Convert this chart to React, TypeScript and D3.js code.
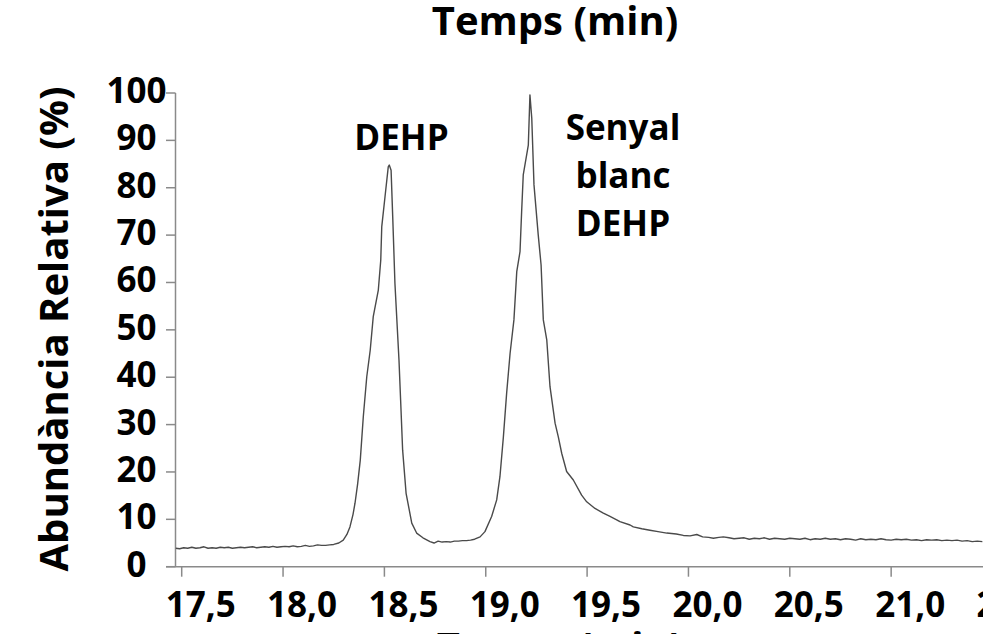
import React from "react";
import * as d3 from "d3";

// Chromatogram data: retention time (min) and relative abundance (%)
const times: number[] = [
  17.47, 17.49, 17.51, 17.53, 17.55, 17.57, 17.59, 17.61, 17.63, 17.65,
  17.67, 17.69, 17.71, 17.73, 17.75, 17.77, 17.79, 17.81, 17.83, 17.85,
  17.87, 17.89, 17.91, 17.93, 17.95, 17.97, 17.99, 18.01, 18.03, 18.05,
  18.07, 18.09, 18.11, 18.13, 18.15, 18.17, 18.19, 18.21, 18.23, 18.25,
  18.275, 18.297, 18.315, 18.33, 18.345, 18.355, 18.368, 18.381, 18.396, 18.413,
  18.43, 18.445, 18.47, 18.482, 18.487, 18.503, 18.519, 18.524, 18.533, 18.541,
  18.552, 18.572, 18.58, 18.59, 18.607, 18.635, 18.659, 18.69, 18.725, 18.745,
  18.765, 18.785, 18.805, 18.825, 18.845, 18.865, 18.885, 18.905, 18.925, 18.945,
  18.972, 18.996, 19.029, 19.054, 19.07, 19.087, 19.103, 19.12, 19.139, 19.153,
  19.169, 19.177, 19.185, 19.21, 19.218, 19.227, 19.238, 19.259, 19.273, 19.284,
  19.301, 19.317, 19.342, 19.358, 19.375, 19.399, 19.432, 19.473, 19.498, 19.539,
  19.58, 19.613, 19.646, 19.662, 19.712, 19.728, 19.77, 19.81, 19.85, 19.893,
  19.94, 19.975, 20.008, 20.041, 20.07, 20.1, 20.123, 20.15, 20.172, 20.2,
  20.225, 20.25, 20.275, 20.3, 20.325, 20.35, 20.375, 20.4, 20.425, 20.45,
  20.475, 20.5, 20.525, 20.55, 20.575, 20.6, 20.625, 20.65, 20.675, 20.7,
  20.725, 20.75, 20.775, 20.8, 20.825, 20.85, 20.875, 20.9, 20.925, 20.95,
  20.975, 21.0, 21.025, 21.05, 21.075, 21.1, 21.125, 21.15, 21.175, 21.2,
  21.225, 21.25, 21.275, 21.3, 21.325, 21.35, 21.375, 21.4, 21.425, 21.45,
];

const abundance: number[] = [
  3.9, 3.8, 4.0, 3.9, 4.1, 3.9, 4.0, 4.2, 3.9, 4.0,
  3.9, 4.1, 4.0, 4.1, 3.9, 4.0, 4.1, 4.0, 4.1, 4.2,
  4.0, 4.1, 4.2, 4.1, 4.3, 4.1, 4.2, 4.3, 4.2, 4.4,
  4.2, 4.3, 4.5, 4.3, 4.4, 4.6, 4.5, 4.5, 4.6, 4.7,
  5.0, 5.6, 6.8, 8.4, 11.0, 13.4, 17.5, 22.5, 31.7, 40.1,
  45.7, 52.8, 58.4, 64.7, 71.8, 78.1, 84.4, 84.8, 83.7, 73.9,
  59.8, 43.6, 35.2, 24.6, 15.5, 9.2, 7.1, 6.1, 5.3, 5.0,
  5.4, 5.2, 5.3, 5.2, 5.4, 5.4, 5.5, 5.5, 5.6, 5.8,
  6.3, 7.4, 10.6, 14.1, 19.0, 27.4, 36.6, 45.0, 52.1, 62.3,
  66.5, 74.9, 82.7, 89.0, 99.6, 94.7, 80.6, 70.0, 63.7, 52.1,
  47.9, 38.0, 30.3, 27.4, 23.9, 20.1, 18.3, 15.1, 13.7, 12.3,
  11.3, 10.6, 9.9, 9.5, 8.8, 8.4, 8.0, 7.7, 7.4, 7.1,
  6.9, 6.6, 6.5, 6.8, 6.3, 6.2, 6.0, 6.2, 6.3, 6.1,
  5.9, 6.0, 6.1, 5.8, 6.0, 5.9, 6.1, 5.8, 6.0, 5.9,
  5.8, 6.0, 5.9, 5.8, 6.0, 5.7, 5.9, 5.8, 6.0, 5.8,
  5.9, 5.7, 5.9, 5.8, 5.6, 5.9, 5.7, 5.8, 5.7, 5.9,
  5.7, 5.6, 5.8, 5.7, 5.8, 5.6, 5.7, 5.5, 5.7, 5.6,
  5.7, 5.5, 5.6, 5.5, 5.6, 5.4, 5.5, 5.3, 5.4, 5.3,
];

const yTicks: number[] = [0, 10, 20, 30, 40, 50, 60, 70, 80, 90, 100];
const xTicks: number[] = [17.5, 18.0, 18.5, 19.0, 19.5, 20.0, 20.5, 21.0, 21.5];

const titleText = "Temps (min)";
const yAxisTitle = "Abundància Relativa (%)";
const peak1Label = ["DEHP"];
const peak2Label = ["Senyal", "blanc", "DEHP"];

const W = 983;
const H = 634;
const FONT = "'Open Sans', sans-serif";

export default function App() {
  const x = d3.scaleLinear().domain([17.5, 21.5]).range([181.7, 992.5]);
  const y = d3.scaleLinear().domain([0, 100]).range([566.7, 93]);
  const axisX = 175.5;
  const axisY = y(0);

  const pts: [number, number][] = times.map((t, i) => [t, abundance[i]]);
  const line = d3
    .line<[number, number]>()
    .x((d) => x(d[0]))
    .y((d) => y(d[1]));

  const fmt = (v: number) => v.toFixed(1).replace(".", ",");

  return (
    <svg
      width={W}
      height={H}
      style={{ position: "absolute", left: 0, top: 0, background: "#fff" }}
      fontFamily={FONT}
      fontWeight="bold"
    >
      <rect x={0} y={0} width={W} height={H} fill="#fff" />
      <defs>
        <clipPath id="plotClip">
          <rect x={axisX} y={0} width={W - axisX} height={axisY} />
        </clipPath>
      </defs>

      {/* top title */}
      <text x={555} y={35} textAnchor="middle" fontSize={40} fill="#000">
        {titleText}
      </text>
      {/* bottom (clipped) axis title */}
      <text x={560} y={661} textAnchor="middle" fontSize={40} fill="#000">
        {titleText}
      </text>

      {/* y axis title */}
      <text
        transform={`translate(68, 329) rotate(-90)`}
        textAnchor="middle"
        fontSize={40}
        fill="#000"
      >
        {yAxisTitle}
      </text>

      {/* y axis */}
      <line x1={axisX} x2={axisX} y1={y(100)} y2={axisY} stroke="#8a8a8a" strokeWidth={1.5} />
      {yTicks.map((t) => (
        <g key={`yt${t}`}>
          <line x1={166} x2={axisX} y1={y(t)} y2={y(t)} stroke="#8a8a8a" strokeWidth={1.5} />
          <text x={136.5} y={y(t) + 10} textAnchor="middle" fontSize={35} fill="#000">
            {t}
          </text>
        </g>
      ))}

      {/* x axis */}
      <line x1={166} x2={W} y1={axisY} y2={axisY} stroke="#8a8a8a" strokeWidth={1.5} />
      {xTicks.map((t) => (
        <g key={`xt${t}`}>
          <line x1={x(t)} x2={x(t)} y1={axisY} y2={axisY + 10} stroke="#8a8a8a" strokeWidth={1.5} />
          <text x={x(t) + 19} y={617} textAnchor="middle" fontSize={35} fill="#000">
            {fmt(t)}
          </text>
        </g>
      ))}

      {/* chromatogram */}
      <path
        d={line(pts) || ""}
        fill="none"
        stroke="#4a4a4a"
        strokeWidth={1.4}
        strokeLinejoin="round"
        clipPath="url(#plotClip)"
      />

      {/* peak annotations */}
      {peak1Label.map((s, i) => (
        <text key={`p1${i}`} x={401.5} y={150 + i * 47} textAnchor="middle" fontSize={35} fill="#000">
          {s}
        </text>
      ))}
      {peak2Label.map((s, i) => (
        <text key={`p2${i}`} x={623} y={140 + i * 48} textAnchor="middle" fontSize={35} fill="#000">
          {s}
        </text>
      ))}
    </svg>
  );
}
